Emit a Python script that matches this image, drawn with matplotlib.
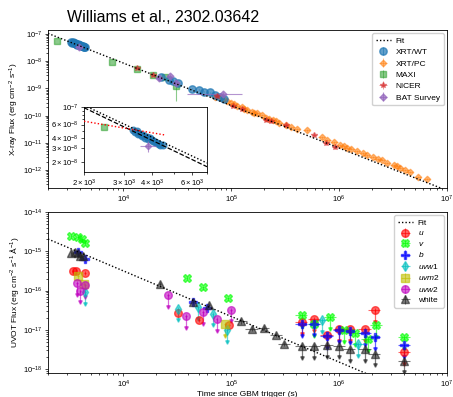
import numpy as np
import matplotlib
matplotlib.use("Agg")
import matplotlib.pyplot as plt

plt.rcParams['font.family'] = ['Liberation Sans', 'DejaVu Sans']
plt.rcParams['mathtext.fontset'] = 'custom'
plt.rcParams['mathtext.rm'] = 'Liberation Sans'
plt.rcParams['mathtext.it'] = 'Liberation Sans:italic'
plt.rcParams['mathtext.bf'] = 'Liberation Sans:bold'

# ---------------- X-ray data ----------------
fit_x_t = [2000, 1e7]
fit_x_f = [1.05e-7, 1.78e-13]

wt_t = [3300, 3350, 3420, 3480, 3530, 3600, 3650, 3720, 3780, 3850, 3900, 3980, 4050, 4120, 4200, 4280, 4350, 4450,
        2.21e4, 2.62e4, 2.9e4, 3.24e4, 4.37e4, 4.97e4, 5.6e4, 6.3e4, 7.1e4, 7.8e4, 8.5e4]
wt_f = [5.1e-8, 4.8e-8, 4.9e-8, 4.5e-8, 4.6e-8, 4.3e-8, 4.4e-8, 4.1e-8, 4.2e-8, 3.9e-8, 4.0e-8, 3.8e-8, 3.7e-8, 3.6e-8, 3.5e-8, 3.4e-8, 3.3e-8, 3.3e-8,
        2.7e-9, 2.1e-9, 1.9e-9, 1.6e-9, 9.8e-10, 9.1e-10, 7.6e-10, 7.1e-10, 5.9e-10, 5.0e-10, 4.2e-10]

pc_t = [7.0e4, 8.0e4, 8.6e4, 9.2e4, 1.0e5, 1.06e5, 1.12e5, 1.25e5, 1.32e5, 1.39e5, 1.55e5, 1.63e5, 1.72e5, 1.91e5,
        2.1e5, 2.25e5, 2.42e5, 2.6e5, 2.8e5, 3.2e5, 3.6e5, 4.04e5, 5.0e5, 6.9e5, 7.8e5, 9.0e5, 1.01e6, 1.1e6,
        1.18e6, 1.3e6, 1.46e6, 1.65e6, 1.8e6, 2.05e6, 2.3e6, 2.49e6, 2.77e6, 3.2e6, 3.45e6, 3.66e6, 4.1e6,
        4.5e6, 5.37e6, 6.5e6]
pc_f = [5.0e-10, 4.3e-10, 4.0e-10, 3.6e-10, 3.0e-10, 2.7e-10, 2.3e-10, 2.0e-10, 1.75e-10, 1.55e-10, 1.35e-10, 1.3e-10, 1.2e-10, 1.05e-10,
        8.5e-11, 7.8e-11, 7.2e-11, 6.3e-11, 5.6e-11, 4.6e-11, 3.9e-11, 3.3e-11, 2.9e-11, 1.6e-11, 1.3e-11, 1.05e-11, 8.1e-12, 7.4e-12,
        6.5e-12, 6.2e-12, 4.9e-12, 4.1e-12, 3.5e-12, 3.0e-12, 2.6e-12, 2.3e-12, 1.8e-12, 1.5e-12, 1.4e-12, 1.17e-12, 1.0e-12,
        8.5e-13, 5.5e-13, 4.7e-13]

maxi_t = [2440, 7900, 1.35e4, 1.9e4, 2.45e4, 3.1e4]
maxi_f = [5.6e-8, 9.5e-9, 5.3e-9, 3.2e-9, 2.7e-9, 1.2e-9]
maxi_elo = [0.0, 0.0, 0.0, 0.0, 0.0, 0.85e-9]

nicer_t = [1.35e4, 1.9e4, 7.3e4, 1.03e5, 1.27e5, 2.1e5, 2.35e5, 3.2e5, 5.9e5, 7.6e5, 9.1e5]
nicer_f = [5.7e-9, 3.2e-9, 5.2e-10, 2.3e-10, 1.8e-10, 7.2e-11, 6.1e-11, 4.4e-11, 2.0e-11, 9.7e-12, 6.9e-12]

bat_t = [3850, 2.15e4, 2.7e4, 3.1e4, 8.3e4]
bat_f = [3.2e-8, 2.5e-9, 2.9e-9, 1.6e-9, 6.4e-10]
bat_xlo = [300, 1.5e3, 1.5e3, 1.5e3, 4.4e4]
bat_xhi = [300, 1.5e3, 1.5e3, 1.5e3, 4.4e4]

# inset lines
ins_dot_t = [2000, 7000]
ins_dot_f = [1.05e-7, 1.95e-8]
ins_dash_t = [2000, 7000]
ins_dash_f = [9.8e-8, 1.75e-8]
ins_red_t = [2000, 4600]
ins_red_f = [6.6e-8, 4.4e-8]

# ---------------- UVOT data ----------------
fit_u_t = [2000, 1e7]
fit_u_f = [2.05e-15, 1.05e-19]

u_t = [3400, 3600, 4400, 3.2e4, 5.0e4, 9.6e4, 4.5e5, 5.9e5, 7.7e5, 1.0e6, 1.25e6, 1.73e6, 2.14e6, 4.0e6]
u_f = [3.2e-16, 3.1e-16, 2.8e-16, 2.7e-17, 1.8e-17, 1.3e-17, 1.6e-17, 1.9e-17, 7.5e-18, 1.05e-17, 1.05e-17, 1.05e-17, 3.2e-17, 2.7e-18]
u_ul = [0, 0, 0, 0, 0, 0, 1, 1, 1, 1, 1, 1, 1, 1]

v_t = [3300, 3800, 4100, 4450, 3.85e4, 5.5e4, 9.4e4, 4.5e5, 5.9e5, 8.3e5, 1.1e6, 1.4e6, 1.84e6, 2.2e6, 4.0e6]
v_f = [2.45e-15, 2.3e-15, 2.0e-15, 1.6e-15, 2.1e-16, 1.2e-16, 6.3e-17, 2.4e-17, 1.4e-17, 2.1e-17, 1.0e-17, 8.3e-18, 5.8e-18, 1.3e-17, 6.6e-18]
v_ul = [0, 0, 0, 0, 0, 0, 0, 1, 1, 1, 1, 1, 1, 1, 1]

b_t = [3800, 4450, 4.4e4, 5.9e4, 4.5e5, 5.9e5, 7.7e5, 1.0e6, 1.25e6, 1.73e6, 2.14e6, 4.0e6]
b_f = [9.5e-16, 6.2e-16, 5.2e-17, 3.6e-17, 1.4e-17, 1.45e-17, 6.9e-18, 9.8e-18, 9.3e-18, 8.3e-18, 6.6e-18, 4.1e-18]
b_ul = [0, 0, 0, 0, 1, 1, 1, 1, 1, 1, 1, 1]

uvw1_t = [4450, 3.2e4, 4.9e4, 6.7e4, 9.1e4, 6.9e5, 1.5e6]
uvw1_f = [9e-17, 3.5e-17, 3.8e-17, 2.6e-17, 1.0e-17, 1.8e-17, 4.4e-18]
uvw1_ul = [1, 1, 1, 1, 1, 1, 1]

uvm2_t = [3800, 4300, 8.7e4]
uvm2_f = [2.3e-16, 1.5e-16, 1.4e-17]
uvm2_ul = [0, 0, 1]

uvw2_t = [3700, 4000, 4450, 2.6e4, 3.8e4, 5.5e4, 7.3e4, 1.0e5]
uvw2_f = [1.55e-16, 1.0e-16, 1.4e-16, 7.8e-17, 2.3e-17, 2.8e-17, 1.9e-17, 3.3e-17]
uvw2_ul = [1, 1, 1, 1, 1, 1, 1, 1]

white_t = [3300, 3550, 3800, 4000, 4250, 2.2e4, 4.4e4, 6.2e4, 1.23e5, 1.55e5, 2.0e5, 2.6e5, 3.1e5,
           4.5e5, 5.9e5, 7.7e5, 1.0e6, 1.25e6, 1.73e6, 2.14e6, 4.0e6]
white_f = [9.3e-16, 9.5e-16, 9.3e-16, 7.8e-16, 7.5e-16, 1.45e-16, 5.2e-17, 4.3e-17, 1.65e-17, 1.05e-17, 1.1e-17, 7.5e-18, 4.5e-18,
           3.8e-18, 3.8e-18, 4.2e-18, 4.0e-18, 3.3e-18, 3.3e-18, 2.5e-18, 1.65e-18]
white_ul = [0, 0, 0, 0, 0, 0, 0, 0, 0, 0, 0, 0, 0, 1, 1, 1, 1, 1, 1, 1, 1]

# ---------------- figure ----------------
W, H = 453, 397
fig = plt.figure(figsize=(W / 100, H / 100), dpi=100)
ax1 = fig.add_axes([48 / W, 1 - 188 / H, 399 / W, 158 / H])
ax2 = fig.add_axes([48 / W, 1 - 373 / H, 399 / W, 161 / H])
axin = fig.add_axes([84 / W, 1 - 172 / H, 123 / W, 65 / H])

fig.text(67 / W, 1 - 18 / H, "Williams et al., 2302.03642", fontsize=11.5, va='center', ha='left')

tick_fs = 5.5
lab_fs = 6.0

def style_log(ax):
    ax.set_xscale('log')
    ax.set_yscale('log')
    ax.tick_params(which='both', labelsize=tick_fs, direction='out', width=0.5, pad=1.5)
    ax.tick_params(which='major', length=2.5)
    ax.tick_params(which='minor', length=1.5)
    for s in ax.spines.values():
        s.set_linewidth(0.6)

c_wt, c_pc, c_maxi, c_nicer, c_bat = '#1f77b4', '#ff7f0e', '#2ca02c', '#d62728', '#9467bd'

def xray(ax, ms=1.0):
    ax.errorbar(maxi_t, maxi_f, yerr=[maxi_elo, [0] * len(maxi_f)], fmt='s', color=c_maxi, ms=4.5 * ms,
                alpha=0.55, elinewidth=0.8, capsize=0, label='MAXI', zorder=3)
    ax.errorbar(wt_t, wt_f, yerr=[np.array(wt_f) * 0.06, np.array(wt_f) * 0.06], fmt='o', color=c_wt, ms=5.3 * ms,
                alpha=0.7, elinewidth=0.6, capsize=0, label='XRT/WT', zorder=4)
    ax.errorbar(pc_t, pc_f, xerr=[np.array(pc_t) * 0.08, np.array(pc_t) * 0.08],
                yerr=[np.array(pc_f) * 0.1, np.array(pc_f) * 0.1], fmt='D', color=c_pc, ms=3.3 * ms,
                alpha=0.55, elinewidth=0.6, capsize=0, label='XRT/PC', zorder=3)
    ax.errorbar(nicer_t, nicer_f, xerr=[np.array(nicer_t) * 0.06, np.array(nicer_t) * 0.06],
                yerr=[np.array(nicer_f) * 0.12, np.array(nicer_f) * 0.12], fmt='*', color=c_nicer, ms=4 * ms,
                alpha=0.55, elinewidth=0.6, capsize=0, label='NICER', zorder=5)
    ax.errorbar(bat_t, bat_f, xerr=[bat_xlo, bat_xhi], yerr=[np.array(bat_f) * 0.15, np.array(bat_f) * 0.15],
                fmt='D', color=c_bat, ms=3.5 * ms, alpha=0.7, elinewidth=0.8, capsize=0, label='BAT Survey', zorder=5)

style_log(ax1)
ax1.plot(fit_x_t, fit_x_f, ls=(0, (1, 1.5)), color='k', lw=1.0, label='Fit', zorder=6)
xray(ax1)
ax1.set_xlim(2000, 1e7)
ax1.set_ylim(2.2e-13, 1.4e-7)
ax1.set_ylabel(r"X-ray Flux (erg cm$^{-2}$ s$^{-1}$)", fontsize=lab_fs, labelpad=1.5)
h, l = ax1.get_legend_handles_labels()
order = ['Fit', 'XRT/WT', 'XRT/PC', 'MAXI', 'NICER', 'BAT Survey']
hh = [h[l.index(o)] for o in order]
ax1.legend(hh, order, loc='upper right', fontsize=6, frameon=True, fancybox=True, framealpha=0.9,
           edgecolor='#cccccc', borderpad=0.45, labelspacing=0.42, handlelength=1.8, handletextpad=0.6,
           borderaxespad=0.4)

# inset
style_log(axin)
xray(axin, ms=0.9)
axin.plot(ins_dot_t, ins_dot_f, ls=(0, (1, 1.5)), color='k', lw=1.0, zorder=6)
axin.plot(ins_dash_t, ins_dash_f, ls='--', color='k', lw=0.9, zorder=6)
axin.plot(ins_red_t, ins_red_f, ls=(0, (1, 1.5)), color='red', lw=1.0, zorder=6)
axin.set_xlim(2000, 7000)
axin.set_ylim(1.5e-8, 1e-7)
axin.set_xticks([2e3, 3e3, 4e3, 6e3])
axin.set_xticklabels([r"$2\times10^{3}$", r"$3\times10^{3}$", r"$4\times10^{3}$", r"$6\times10^{3}$"])
axin.set_yticks([2e-8, 3e-8, 4e-8, 6e-8, 1e-7])
axin.set_yticklabels([r"$2\times10^{-8}$", r"$3\times10^{-8}$", r"$4\times10^{-8}$", r"$6\times10^{-8}$", r"$10^{-7}$"])
axin.xaxis.set_minor_formatter(matplotlib.ticker.NullFormatter())
axin.yaxis.set_minor_formatter(matplotlib.ticker.NullFormatter())
axin.tick_params(which='both', labelsize=5.5)
axin.set_facecolor('white')

# ---------------- UVOT ----------------
style_log(ax2)
ax2.plot(fit_u_t, fit_u_f, ls=(0, (1, 1.5)), color='k', lw=1.0, label='Fit', zorder=6)

def uvot(t, f, ul, color, marker, label, ms=5.5):
    t = np.array(t, float); f = np.array(f, float); ul = np.array(ul, bool)
    xerr = np.where(t > 1.1e5, 0.13 * t, 0.02 * t)
    yerr = 0.12 * f
    ax2.errorbar(t, f, xerr=xerr, yerr=yerr, fmt=marker, color=color, ms=ms, alpha=0.6, elinewidth=0.8,
                 capsize=0, label=label, zorder=4)
    for ti, fi, u in zip(t, f, ul):
        if u:
            ax2.plot([ti, ti], [fi, fi * 0.5], color=color, lw=0.9, alpha=0.6, zorder=3)
            ax2.plot([ti], [fi * 0.5], marker='v', color=color, ms=2.5, alpha=0.6, zorder=3)

uvot(u_t, u_f, u_ul, '#ff0000', 'o', r'$u$')
uvot(v_t, v_f, v_ul, '#00ff00', 'X', r'$v$')
uvot(b_t, b_f, b_ul, '#0000ff', 'P', r'$b$')
uvot(uvw1_t, uvw1_f, uvw1_ul, '#00bfbf', 'd', r'$uvw1$')
uvot(uvm2_t, uvm2_f, uvm2_ul, '#bfbf00', 's', r'$uvm2$')
uvot(uvw2_t, uvw2_f, uvw2_ul, '#bf00bf', 'o', r'$uvw2$')
uvot(white_t, white_f, white_ul, '#222222', '^', 'white')

ax2.set_xlim(2000, 1e7)
ax2.set_ylim(8e-19, 1e-14)
ax2.set_ylabel(r"UVOT Flux (erg cm$^{-2}$ s$^{-1}$ Å$^{-1}$)", fontsize=lab_fs, labelpad=1.5)
ax2.set_xlabel("Time since GBM trigger (s)", fontsize=lab_fs, labelpad=1)
ax2.legend(loc='upper right', fontsize=6, frameon=True, fancybox=True, framealpha=0.9,
           edgecolor='#cccccc', borderpad=0.45, labelspacing=0.3, handlelength=1.8, handletextpad=0.6,
           borderaxespad=0.4)

fig.savefig("out.png", dpi=100)
